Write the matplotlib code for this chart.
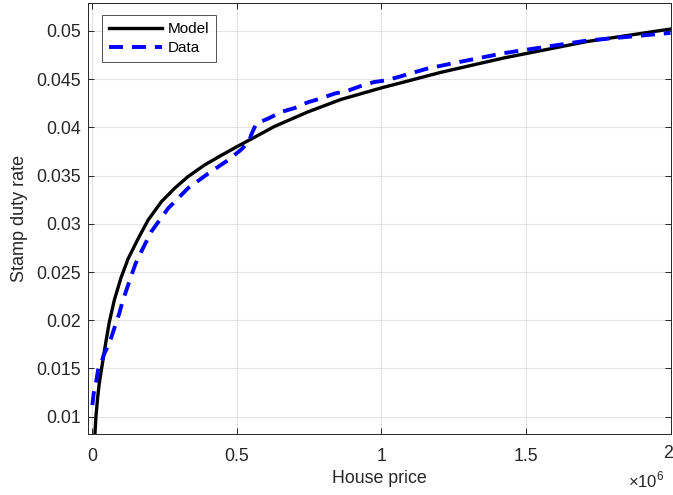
import matplotlib
matplotlib.use("Agg")
import matplotlib.pyplot as plt

plt.rcParams['font.family'] = ['Liberation Sans', 'DejaVu Sans']
plt.rcParams['mathtext.fontset'] = 'custom'
plt.rcParams['mathtext.rm'] = 'Liberation Sans'

# Model curve (house price in millions, stamp duty rate)
model_price = [0.0085, 0.0124, 0.018, 0.024, 0.032, 0.047, 0.0586, 0.076, 0.099, 0.124,
               0.159, 0.193, 0.239, 0.285, 0.331, 0.388, 0.446, 0.50, 0.55, 0.63,
               0.745, 0.86, 1.0, 1.09, 1.204, 1.423, 1.71, 2.0]
model_rate = [0.0080, 0.0100, 0.0119, 0.0135, 0.0150, 0.0178, 0.0198, 0.0221, 0.0244, 0.0264,
              0.0285, 0.0304, 0.0323, 0.0337, 0.0349, 0.0361, 0.0371, 0.0380, 0.0388, 0.0401,
              0.0416, 0.0429, 0.0441, 0.0448, 0.0457, 0.0472, 0.0489, 0.0502]

# Data curve
data_price = [0.0, 0.0045, 0.0124, 0.0207, 0.0355, 0.039, 0.0586, 0.073, 0.093, 0.104,
              0.122, 0.133, 0.150, 0.164, 0.204, 0.233, 0.262, 0.331, 0.400, 0.469,
              0.515, 0.543, 0.549, 0.567, 0.607, 0.653, 0.699, 0.745, 0.790, 0.837,
              0.883, 0.929, 0.974, 1.02, 1.067, 1.112, 1.159, 1.239, 1.423, 1.71, 2.0]
data_rate = [0.0112, 0.0124, 0.0135, 0.0150, 0.0160, 0.0164, 0.0176, 0.0189, 0.0207, 0.0219,
             0.0235, 0.0245, 0.0259, 0.0268, 0.0292, 0.0304, 0.0316, 0.0337, 0.0352, 0.0366,
             0.0377, 0.0386, 0.0392, 0.0404, 0.0409, 0.0416, 0.0420, 0.0426, 0.0430, 0.0435,
             0.0438, 0.0443, 0.0447, 0.0449, 0.0453, 0.0457, 0.0461, 0.0466, 0.0477, 0.0490, 0.0498]

x_ticks = [0, 0.5, 1, 1.5, 2]
x_tick_labels = ['0', '0.5', '1', '1.5', '2']
y_ticks = [0.01, 0.015, 0.02, 0.025, 0.03, 0.035, 0.04, 0.045, 0.05]
y_tick_labels = ['0.01', '0.015', '0.02', '0.025', '0.03', '0.035', '0.04', '0.045', '0.05']

TXT = '#262626'
fig = plt.figure(figsize=(6.73, 4.95), dpi=100)
ax = fig.add_axes([0.1308, 0.1232, 0.8655, 0.8707])

ax.plot([p * 1e6 for p in model_price], model_rate, color='black', lw=2.4, label='Model')
ax.plot([p * 1e6 for p in data_price], data_rate, color='#0000ff', lw=2.8, ls=(0, (3.6, 2.3)),
        label='Data')

ax.set_xlim(-0.015e6, 2.0e6)
ax.set_ylim(0.0082, 0.0529)
ax.set_xticks([t * 1e6 for t in x_ticks])
# last label drawn separately so it is not clipped at the figure edge
ax.set_xticklabels(x_tick_labels[:-1] + [''])
ax.set_yticks(y_ticks)
ax.set_yticklabels(y_tick_labels)

ax.grid(True, color='#e3e3e3', lw=0.8)
ax.set_axisbelow(True)
ax.tick_params(direction='in', top=True, right=True, length=4, width=0.7,
               colors=TXT, labelsize=12.8)
ax.tick_params(axis='y', pad=5)
ax.tick_params(axis='x', pad=10)
for s in ax.spines.values():
    s.set_color(TXT)
    s.set_linewidth(0.7)

fig.text(668 / 673, 1 - 453 / 495, x_tick_labels[-1], ha='center', va='center',
         fontsize=12.8, color=TXT)

ax.set_xlabel('House price', fontsize=12.8, color=TXT, labelpad=4)
ax.set_ylabel('Stamp duty rate', fontsize=13, color=TXT, labelpad=6)
fig.text(664 / 673, 1 - 480 / 495, r'×10$^{6}$', ha='right', va='center', fontsize=12,
         color=TXT)

leg = ax.legend(loc='upper left', bbox_to_anchor=(0.024, 0.972), fontsize=11,
                frameon=True, fancybox=False, handlelength=3.5, handletextpad=0.35,
                borderpad=0.45, labelspacing=0.35, borderaxespad=0.0)
leg.get_frame().set_edgecolor(TXT)
leg.get_frame().set_linewidth(0.7)

fig.savefig('out.png', dpi=100)
